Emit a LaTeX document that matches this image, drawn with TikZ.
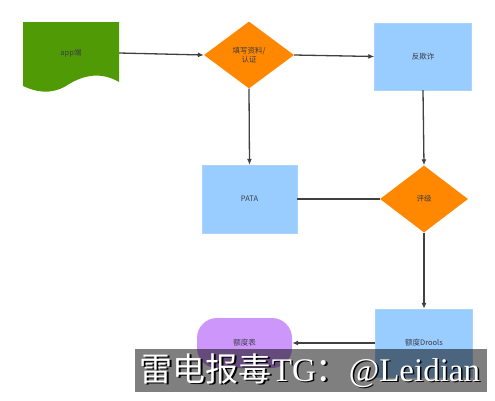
\documentclass[tikz,border=0pt]{standalone}
\usepackage{fontspec}
\setmainfont{Liberation Serif}
\newfontfamily\cjk{Noto Sans CJK SC}
\usetikzlibrary{shapes.geometric,arrows.meta}
\definecolor{docgreen}{RGB}{80,155,5}
\definecolor{dorange}{RGB}{255,136,0}
\definecolor{lblue}{RGB}{153,204,255}
\definecolor{lpurple}{RGB}{204,150,250}
\definecolor{lnk}{RGB}{64,64,64}
\definecolor{txt}{RGB}{60,60,70}
\tikzset{
  x=1pt,y=1pt,
  lab/.style={font=\cjk\fontsize{7.5}{9}\selectfont,text=txt,align=center},
  boxnode/.style={lab,rectangle,fill=lblue,draw=lblue!85!white,inner sep=0,minimum width=97,minimum height=67},
  decnode/.style={lab,diamond,fill=dorange,inner sep=0,aspect=1.35,minimum width=90,minimum height=67},
  pillnode/.style={lab,rectangle,rounded corners=20,fill=lpurple,inner sep=0,minimum width=95,minimum height=50},
  conn/.style={draw=lnk,line width=1.3pt},
  arr/.style={conn,-{Latex[length=6pt,width=5pt]}}
}
\begin{document}
\begin{tikzpicture}
\useasboundingbox (0,0) rectangle (495,-400);
\fill[white] (0,0) rectangle (495,-400);
% document shape
\fill[docgreen] (23,-22) -- (119,-22) -- (119,-82)
  .. controls (102,-72) and (84,-74) .. (66,-86)
  .. controls (50,-95) and (36,-92) .. (23,-86) -- cycle;
\node[lab,inner sep=0,minimum width=96,minimum height=62] (app) at (71,-53) {app端};
\node[decnode] (fill) at (249,-55) {填写资料/\\认证};
\node[boxnode] (anti) at (423,-56.5) {反欺诈};
\node[boxnode,minimum width=95,minimum height=68] (pata) at (249.5,-199) {PATA};
\node[decnode,minimum width=88] (rate) at (424,-199) {评级};
\node[boxnode,minimum height=68] (drools) at (424,-343) {额度Drools};
\node[pillnode] (table) at (244.5,-343) {额度表};
\draw[arr] (app.east) -- (fill.west);
\draw[arr] (fill.east) -- (anti.west);
\draw[arr] (fill.south) -- (pata.north);
\draw[arr] (anti.south) -- (rate.north);
\draw[conn] (pata.east) -- (rate.west);
\draw[arr] (rate.south) -- (drools.north);
\draw[arr] (drools.west) -- (table.east);
% watermark
\fill[black,opacity=0.5] (135,-349) rectangle (487,-392);
\node[font=\fontsize{33}{36}\selectfont,text=black,inner sep=0,anchor=center] (wms) at (311.5,-372) {{\cjk 雷电报毒}TG{\cjk ：}@Leidian};
\node[font=\fontsize{33}{36}\selectfont,text=white,inner sep=0,anchor=center] (wm) at (310,-370.5) {{\cjk 雷电报毒}TG{\cjk ：}@Leidian};
\end{tikzpicture}
\end{document}
